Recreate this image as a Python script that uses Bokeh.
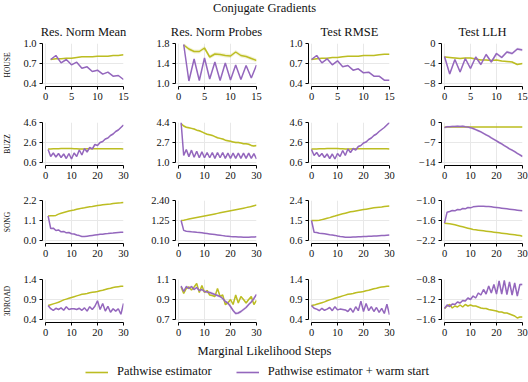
from bokeh.plotting import figure
from bokeh.layouts import column, row
from bokeh.models import Range1d, FixedTicker, Label, Legend, LegendItem
from bokeh.embed import file_html
from bokeh.resources import INLINE

OLIVE = "#bcbd22"
PURPLE = "#9467bd"
FONT = "Liberation Serif"
TXT = "#111111"

SUPTITLE = "Conjugate Gradients"
METRICS = ["Res. Norm Mean", "Res. Norm Probes", "Test RMSE", "Test LLH"]
DATASETS = ["HOUSE", "BUZZ", "SONG", "3DROAD"]
XLABEL = "Marginal Likelihood Steps"
SERIES = ["Pathwise estimator", "Pathwise estimator + warm start"]

# ---------------- x steps ----------------
HOUSE_TRAIN_STEPS = list(range(1, 16))
HOUSE_TEST_STEPS = list(range(0, 16))
TRAIN_STEPS = list(range(1, 31))
TEST_STEPS = list(range(0, 31))

HOUSE_XTICKS = [0, 5, 10, 15]
XTICKS = [0, 10, 20, 30]

# ---------------- HOUSE ----------------
H_MEAN_PW = [0.76, 0.77, 0.77, 0.78, 0.78, 0.79, 0.80, 0.80, 0.80, 0.81, 0.81, 0.81, 0.82, 0.82, 0.83]
H_MEAN_WS = [0.76, 0.82, 0.71, 0.76, 0.68, 0.72, 0.63, 0.65, 0.58, 0.60, 0.54, 0.57, 0.51, 0.52, 0.46]
H_PROBE_PW = [1.77, 1.69, 1.64, 1.64, 1.71, 1.53, 1.59, 1.58, 1.56, 1.55, 1.63, 1.56, 1.54, 1.50, 1.46]
H_PROBE_WS = [1.78, 1.05, 1.49, 1.06, 1.51, 1.09, 1.43, 1.06, 1.41, 1.07, 1.37, 1.08, 1.36, 1.11, 1.37]
H_RMSE_PW = [0.76, 0.77, 0.78, 0.78, 0.79, 0.79, 0.80, 0.81, 0.81, 0.81, 0.82, 0.82, 0.82, 0.83, 0.84, 0.84]
H_RMSE_WS = [0.76, 0.82, 0.71, 0.77, 0.68, 0.74, 0.65, 0.67, 0.60, 0.62, 0.56, 0.57, 0.51, 0.51, 0.45, 0.45]
H_LLH_PW = [-2.7, -2.8, -2.9, -3.0, -2.9, -2.9, -3.1, -3.3, -3.3, -3.4, -3.3, -3.5, -3.6, -3.7, -4.2, -4.0]
H_LLH_WS = [-2.6, -6.1, -3.2, -5.7, -3.0, -5.0, -2.7, -4.2, -2.2, -3.7, -2.0, -2.8, -1.7, -2.0, -1.1, -1.3]
H_YTICKS = [[0.4, 0.7, 1.0], [1.0, 1.4, 1.8], [0.4, 0.7, 1.0], [-8, -4, 0]]
H_YLABELS = [["0.4", "0.7", "1.0"], ["1.0", "1.4", "1.8"], ["0.4", "0.7", "1.0"], ["\u22128", "\u22124", "0"]]
H_BANDS = [[0.008, 0.008], [0.04, 0.01], [0.008, 0.008], [0.15, 0.3]]

# ---------------- BUZZ ----------------
B_MEAN_PW = [1.95, 1.96, 1.97, 1.98, 1.98, 1.99, 2.00, 2.00, 2.00, 1.99, 1.98, 1.97, 1.96, 1.96, 1.96,
             1.97, 1.97, 1.98, 1.98, 1.98, 1.98, 1.98, 1.98, 1.98, 1.98, 1.98, 1.98, 1.97, 1.97, 1.96]
B_MEAN_WS = [1.90, 1.20, 1.55, 1.15, 1.50, 1.10, 1.45, 1.00, 1.50, 0.95, 1.55, 1.20, 1.85, 1.35, 2.00,
             1.65, 2.10, 1.95, 2.40, 2.30, 2.60, 2.70, 2.95, 3.05, 3.30, 3.45, 3.70, 3.85, 4.10, 4.35]
B_PROBE_PW = [4.30, 4.10, 4.00, 3.95, 3.90, 3.85, 3.75, 3.70, 3.60, 3.50, 3.40, 3.35, 3.30, 3.20, 3.10,
              3.05, 3.00, 2.90, 2.85, 2.80, 2.75, 2.70, 2.70, 2.65, 2.60, 2.60, 2.55, 2.45, 2.40, 2.45]
B_PROBE_WS = [4.40, 1.60, 2.10, 1.50, 2.05, 1.45, 1.95, 1.40, 1.90, 1.40, 1.85, 1.40, 1.85, 1.35, 1.85,
              1.40, 1.85, 1.35, 1.80, 1.35, 1.80, 1.35, 1.80, 1.35, 1.80, 1.35, 1.80, 1.35, 1.75, 1.30]
B_RMSE_PW = [1.95, 1.95, 1.96, 1.97, 1.98, 1.98, 1.99, 2.00, 2.00, 2.00, 1.99, 1.98, 1.97, 1.96, 1.96, 1.96,
             1.97, 1.97, 1.98, 1.98, 1.98, 1.98, 1.98, 1.98, 1.98, 1.98, 1.98, 1.98, 1.97, 1.97, 1.96]
B_RMSE_WS = [1.90, 1.30, 1.60, 1.20, 1.50, 1.10, 1.45, 1.00, 1.45, 0.95, 1.50, 1.20, 1.80, 1.30, 1.95, 1.60,
             2.00, 1.85, 2.20, 2.30, 2.55, 2.65, 2.90, 3.05, 3.30, 3.45, 3.70, 3.90, 4.10, 4.35, 4.60]
B_LLH_PW = [-1.7, -1.6, -1.6, -1.6, -1.6, -1.6, -1.6, -1.6, -1.6, -1.6, -1.6, -1.6, -1.6, -1.6, -1.6, -1.6,
            -1.6, -1.6, -1.6, -1.6, -1.6, -1.6, -1.6, -1.6, -1.6, -1.6, -1.6, -1.6, -1.6, -1.6, -1.6]
B_LLH_WS = [-1.8, -1.5, -1.5, -1.4, -1.4, -1.3, -1.4, -1.3, -1.5, -1.6, -1.8, -2.1, -2.5, -2.9, -3.3, -3.8,
            -4.3, -4.8, -5.4, -5.9, -6.4, -7.0, -7.5, -8.1, -8.6, -9.2, -9.7, -10.2, -10.8, -11.3, -11.9]
B_YTICKS = [[0.6, 2.6, 4.6], [1.0, 2.7, 4.4], [0.6, 2.6, 4.6], [-14, -7, 0]]
B_YLABELS = [["0.6", "2.6", "4.6"], ["1.0", "2.7", "4.4"], ["0.6", "2.6", "4.6"], ["\u221214", "\u22127", "0"]]
B_BANDS = [[0.03, 0.08], [0.08, 0.04], [0.03, 0.08], [0.1, 0.4]]

# ---------------- SONG ----------------
S_MEAN_PW = [1.35, 1.36, 1.36, 1.38, 1.45, 1.50, 1.54, 1.58, 1.62, 1.65, 1.68, 1.72, 1.75, 1.78, 1.80,
             1.83, 1.85, 1.87, 1.90, 1.92, 1.94, 1.96, 1.98, 2.00, 2.01, 2.03, 2.05, 2.06, 2.07, 2.09]
S_MEAN_WS = [1.35, 0.66, 0.68, 0.55, 0.58, 0.48, 0.50, 0.42, 0.44, 0.37, 0.36, 0.30, 0.27, 0.22, 0.22,
             0.24, 0.26, 0.28, 0.30, 0.32, 0.34, 0.35, 0.37, 0.38, 0.40, 0.41, 0.43, 0.44, 0.45, 0.46]
S_PROBE_PW = [1.25, 1.27, 1.30, 1.33, 1.36, 1.39, 1.42, 1.45, 1.48, 1.51, 1.54, 1.57, 1.60, 1.63, 1.66,
              1.69, 1.72, 1.75, 1.78, 1.81, 1.84, 1.87, 1.90, 1.93, 1.96, 1.99, 2.02, 2.06, 2.10, 2.14]
S_PROBE_WS = [1.25, 0.68, 0.63, 0.62, 0.60, 0.59, 0.57, 0.56, 0.54, 0.52, 0.50, 0.48, 0.46, 0.44, 0.42,
              0.40, 0.38, 0.36, 0.35, 0.33, 0.32, 0.31, 0.30, 0.30, 0.29, 0.29, 0.29, 0.30, 0.30, 0.31]
S_RMSE_PW = [1.50, 1.50, 1.50, 1.51, 1.54, 1.57, 1.60, 1.63, 1.67, 1.70, 1.74, 1.77, 1.80, 1.83, 1.86, 1.89,
             1.91, 1.93, 1.95, 1.97, 1.99, 2.01, 2.03, 2.05, 2.07, 2.09, 2.10, 2.11, 2.13, 2.14, 2.15]
S_RMSE_WS = [1.50, 0.97, 0.96, 0.93, 0.92, 0.90, 0.88, 0.86, 0.85, 0.83, 0.80, 0.78, 0.77, 0.75, 0.75, 0.75,
             0.76, 0.76, 0.77, 0.77, 0.78, 0.78, 0.79, 0.79, 0.80, 0.80, 0.81, 0.82, 0.83, 0.84, 0.85]
S_LLH_PW = [-1.68, -1.69, -1.70, -1.71, -1.73, -1.75, -1.77, -1.79, -1.81, -1.83, -1.85, -1.87, -1.88, -1.89,
            -1.90, -1.91, -1.92, -1.93, -1.94, -1.95, -1.96, -1.97, -1.98, -1.99, -2.00, -2.01, -2.02, -2.03,
            -2.04, -2.05, -2.07]
S_LLH_WS = [-1.68, -1.35, -1.33, -1.30, -1.31, -1.27, -1.28, -1.24, -1.25, -1.21, -1.22, -1.19, -1.18, -1.17,
            -1.17, -1.17, -1.18, -1.18, -1.19, -1.20, -1.21, -1.22, -1.23, -1.24, -1.25, -1.26, -1.27, -1.28,
            -1.29, -1.30, -1.31]
S_YTICKS = [[0.0, 1.1, 2.2], [0.10, 1.25, 2.40], [0.6, 1.5, 2.4], [-2.2, -1.6, -1.0]]
S_YLABELS = [["0.0", "1.1", "2.2"], ["0.10", "1.25", "2.40"], ["0.6", "1.5", "2.4"],
             ["\u22122.2", "\u22121.6", "\u22121.0"]]
S_BANDS = [[0.01, 0.01], [0.01, 0.01], [0.01, 0.01], [0.005, 0.005]]

# ---------------- 3DROAD ----------------
R_MEAN_PW = [0.75, 0.77, 0.79, 0.81, 0.83, 0.86, 0.89, 0.91, 0.93, 0.95, 0.97, 0.99, 1.01, 1.03, 1.04,
             1.05, 1.07, 1.08, 1.09, 1.10, 1.12, 1.13, 1.15, 1.17, 1.18, 1.20, 1.21, 1.22, 1.23, 1.23]
R_MEAN_WS = [0.75, 0.67, 0.63, 0.68, 0.65, 0.69, 0.63, 0.72, 0.65, 0.67, 0.67, 0.65, 0.68, 0.63, 0.69,
             0.61, 0.72, 0.65, 0.73, 0.87, 0.65, 0.80, 0.61, 0.73, 0.58, 0.67, 0.61, 0.67, 0.53, 0.80]
R_PROBE_PW = [1.025, 0.96, 1.01, 1.025, 0.995, 1.025, 1.06, 0.97, 1.04, 0.97, 0.99, 0.945, 0.94, 0.93, 1.01,
              0.93, 0.945, 0.85, 0.865, 0.90, 0.85, 0.945, 0.865, 0.93, 0.90, 0.865, 0.90, 0.93, 0.85, 0.89]
R_PROBE_WS = [1.035, 0.98, 1.03, 1.01, 1.03, 1.00, 1.02, 0.99, 1.00, 0.98, 0.975, 0.97, 0.96, 0.95, 0.94,
              0.93, 0.91, 0.88, 0.865, 0.83, 0.79, 0.76, 0.765, 0.78, 0.80, 0.82, 0.85, 0.875, 0.91, 0.95]
R_RMSE_PW = [0.75, 0.76, 0.78, 0.80, 0.82, 0.84, 0.87, 0.89, 0.91, 0.93, 0.95, 0.97, 0.99, 1.01, 1.03, 1.04,
             1.05, 1.07, 1.08, 1.09, 1.10, 1.12, 1.13, 1.15, 1.17, 1.18, 1.20, 1.21, 1.22, 1.23, 1.23]
R_RMSE_WS = [0.75, 0.68, 0.66, 0.62, 0.68, 0.63, 0.66, 0.70, 0.62, 0.72, 0.64, 0.66, 0.65, 0.64, 0.60, 0.68,
             0.58, 0.72, 0.62, 0.86, 0.60, 0.80, 0.62, 0.72, 0.60, 0.70, 0.58, 0.68, 0.55, 0.78, 0.52]
R_LLH_PW = [-1.38, -1.33, -1.30, -1.37, -1.33, -1.35, -1.31, -1.35, -1.30, -1.33, -1.31, -1.33, -1.33, -1.35,
            -1.37, -1.38, -1.38, -1.40, -1.41, -1.42, -1.43, -1.45, -1.45, -1.47, -1.47, -1.49, -1.51, -1.53,
            -1.57, -1.55, -1.55]
R_LLH_WS = [-1.38, -1.31, -1.34, -1.29, -1.30, -1.25, -1.27, -1.22, -1.23, -1.17, -1.20, -1.13, -1.17, -1.07,
            -1.11, -1.00, -1.09, -0.93, -1.07, -0.90, -1.09, -0.83, -1.09, -0.82, -1.10, -0.85, -1.11, -0.87,
            -1.13, -0.90, -0.90]
R_YTICKS = [[0.4, 0.9, 1.4], [0.7, 0.9, 1.1], [0.4, 0.9, 1.4], [-1.6, -1.2, -0.8]]
R_YLABELS = [["0.4", "0.9", "1.4"], ["0.7", "0.9", "1.1"], ["0.4", "0.9", "1.4"],
             ["\u22121.6", "\u22121.2", "\u22120.8"]]
R_BANDS = [[0.01, 0.02], [0.01, 0.015], [0.01, 0.02], [0.01, 0.02]]

ROWS = [
    (HOUSE_TRAIN_STEPS, HOUSE_TEST_STEPS, HOUSE_XTICKS,
     [(H_MEAN_PW, H_MEAN_WS), (H_PROBE_PW, H_PROBE_WS), (H_RMSE_PW, H_RMSE_WS), (H_LLH_PW, H_LLH_WS)],
     H_YTICKS, H_YLABELS, H_BANDS),
    (TRAIN_STEPS, TEST_STEPS, XTICKS,
     [(B_MEAN_PW, B_MEAN_WS), (B_PROBE_PW, B_PROBE_WS), (B_RMSE_PW, B_RMSE_WS), (B_LLH_PW, B_LLH_WS)],
     B_YTICKS, B_YLABELS, B_BANDS),
    (TRAIN_STEPS, TEST_STEPS, XTICKS,
     [(S_MEAN_PW, S_MEAN_WS), (S_PROBE_PW, S_PROBE_WS), (S_RMSE_PW, S_RMSE_WS), (S_LLH_PW, S_LLH_WS)],
     S_YTICKS, S_YLABELS, S_BANDS),
    (TRAIN_STEPS, TEST_STEPS, XTICKS,
     [(R_MEAN_PW, R_MEAN_WS), (R_PROBE_PW, R_PROBE_WS), (R_RMSE_PW, R_RMSE_WS), (R_LLH_PW, R_LLH_WS)],
     R_YTICKS, R_YLABELS, R_BANDS),
]

# ---------------- layout constants (px) ----------------
W = 528
FW, FH = 81, 43      # frame size (data area + spine offset)
PAD = 3              # spine offset
BL, BR, BR_LAST = 41, 11, 7
HEADER_H, FOOTER_H = 38, 40
BT = 5
BB = [31, 30, 31, 20]
TITLE_PX = "12.5px"


def panel(xs, pw, ws, bands, xticks, yticks, ylabels, ci, ri):
    x0, x1 = xticks[0], xticks[-1]
    y0, y1 = yticks[0], yticks[-1]
    xpad = (x1 - x0) * PAD / (FW - PAD)
    ypad = (y1 - y0) * PAD / (FH - PAD)
    p = figure(frame_width=FW, frame_height=FH,
               x_range=Range1d(x0 - xpad, x1), y_range=Range1d(y0 - ypad, y1),
               output_backend="svg", toolbar_location=None,
               min_border_left=BL, min_border_right=(BR if ci < 3 else BR_LAST),
               min_border_top=BT, min_border_bottom=BB[ri])
    p.outline_line_color = None
    p.background_fill_color = "white"
    p.border_fill_color = "white"
    for series, color, band in ((pw, OLIVE, bands[0]), (ws, PURPLE, bands[1])):
        p.varea(x=xs, y1=[v - band for v in series], y2=[v + band for v in series],
                fill_color=color, fill_alpha=0.18)
    for series, color in ((pw, OLIVE), (ws, PURPLE)):
        p.line(xs, series, line_color=color, line_width=1.5)

    p.xaxis.ticker = FixedTicker(ticks=xticks)
    p.xaxis.bounds = (x0, x1)
    p.yaxis.ticker = FixedTicker(ticks=yticks)
    p.yaxis.bounds = (y0, y1)
    p.yaxis.major_label_overrides = dict(zip(yticks, ylabels))
    for ax in (p.xaxis, p.yaxis):
        ax.axis_line_color = "black"
        ax.axis_line_width = 1
        ax.major_tick_line_color = "black"
        ax.major_tick_line_width = 1
        ax.major_tick_out = 3
        ax.major_tick_in = 0
        ax.minor_tick_line_color = None
        ax.major_label_text_font = FONT
        ax.major_label_text_font_size = "10.5px"
        ax.major_label_text_color = TXT
        ax.major_label_standoff = 3
    for g in (p.xgrid, p.ygrid):
        g.grid_line_color = "#e8e8e8"
        g.grid_line_width = 1
    if ci == 0:
        p.yaxis.axis_label = DATASETS[ri]
        p.yaxis.axis_label_text_font = FONT
        p.yaxis.axis_label_text_font_size = "7.5px"
        p.yaxis.axis_label_text_font_style = "normal"
        p.yaxis.axis_label_text_color = TXT
        p.yaxis.axis_label_standoff = 8
    return p


def blank(h):
    f = figure(width=W, height=h, x_range=Range1d(0, W), y_range=Range1d(0, h),
               min_border=0, toolbar_location=None, output_backend="svg",
               x_axis_type=None, y_axis_type=None)
    f.outline_line_color = None
    f.grid.visible = False
    return f


# header
hdr = blank(HEADER_H)
hdr.add_layout(Label(x=W / 2, y=HEADER_H - 7, text=SUPTITLE, text_align="center",
                     text_baseline="middle", text_font=FONT, text_font_size=TITLE_PX,
                     text_color=TXT))
for ci, m in enumerate(METRICS):
    cx = BL + PAD + ci * (BL + FW + BR) + (FW - PAD) / 2
    hdr.add_layout(Label(x=cx, y=HEADER_H - 31, text=m, text_align="center",
                         text_baseline="middle", text_font=FONT, text_font_size=TITLE_PX,
                         text_color=TXT))

rows = [hdr]
for ri, (trs, tes, xt, pairs, yts, yls, bds) in enumerate(ROWS):
    figs = []
    for ci in range(4):
        xs = trs if ci < 2 else tes
        pw, ws = pairs[ci]
        figs.append(panel(xs, pw, ws, bds[ci], xt, yts[ci], yls[ci], ci, ri))
    rows.append(row(*figs))

# footer: x label and legend (legend samples come from hidden copies of the 3DROAD LLH series)
ftr = blank(FOOTER_H)
ftr.add_layout(Label(x=W / 2, y=FOOTER_H - 8, text=XLABEL, text_align="center",
                     text_baseline="middle", text_font=FONT, text_font_size=TITLE_PX,
                     text_color=TXT))
r1 = ftr.line(TEST_STEPS, R_LLH_PW, line_color=OLIVE, line_width=1.6, visible=False)
r2 = ftr.line(TEST_STEPS, R_LLH_WS, line_color=PURPLE, line_width=1.6, visible=False)
leg = Legend(items=[LegendItem(label=SERIES[0], renderers=[r1]),
                    LegendItem(label=SERIES[1], renderers=[r2])],
             location=(85, 3), orientation="horizontal",
             glyph_width=23, glyph_height=12, label_height=12, label_standoff=9,
             spacing=24, padding=0, margin=0, border_line_color=None,
             background_fill_alpha=0, inactive_fill_alpha=0, label_text_font=FONT,
             label_text_font_size=TITLE_PX, label_text_color=TXT)
ftr.add_layout(leg)
rows.append(ftr)

p = column(*rows)
open("out.html", "w").write(file_html(p, INLINE))
